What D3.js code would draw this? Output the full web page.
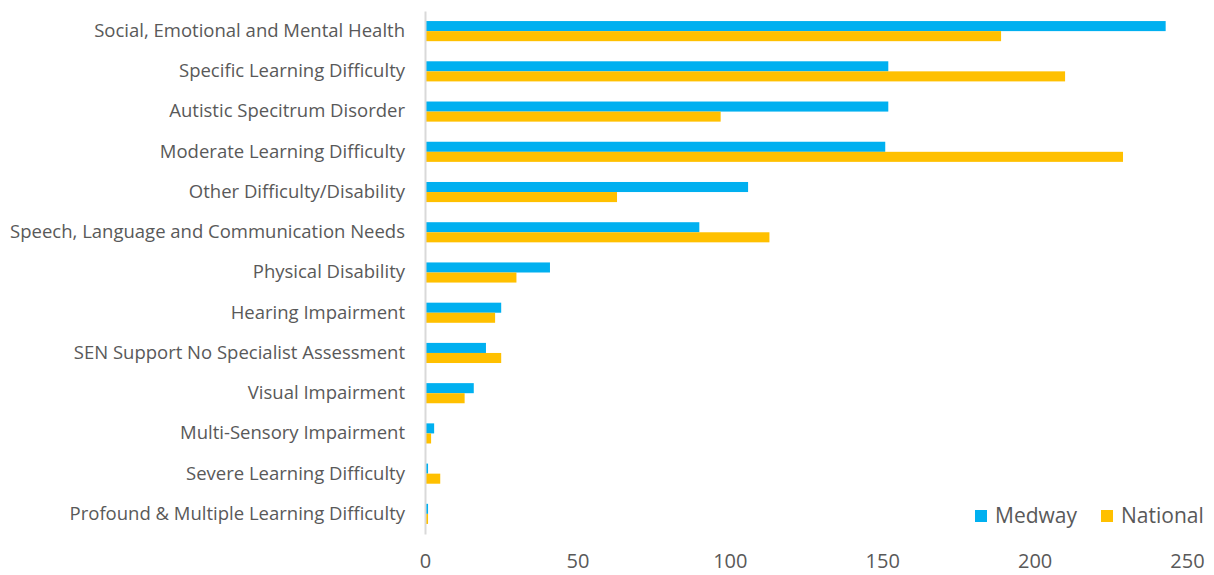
<!DOCTYPE html>
<html>
<head>
<meta charset="utf-8">
<script src="https://cdn.jsdelivr.net/npm/d3@7"></script>
<style>
  body { margin: 0; background: #fff; }
  text { font-family: "Open Sans", "Noto Sans", sans-serif; fill: #595959; }
</style>
</head>
<body>
<div id="chart"></div>
<script>
// --- DATOS ---
const categories = [
  "Social, Emotional and Mental Health",
  "Specific Learning Difficulty",
  "Autistic Specitrum Disorder",
  "Moderate Learning Difficulty",
  "Other Difficulty/Disability",
  "Speech, Language and Communication Needs",
  "Physical Disability",
  "Hearing Impairment",
  "SEN Support No Specialist Assessment",
  "Visual Impairment",
  "Multi-Sensory Impairment",
  "Severe Learning Difficulty",
  "Profound & Multiple Learning Difficulty"
];
const medway = [243, 152, 152, 151, 106, 90, 41, 25, 20, 16, 3, 1, 1];
const national = [189, 210, 97, 229, 63, 113, 30, 23, 25, 13, 2, 5, 1];
const seriesNames = ["Medway", "National"];
const xTicks = [0, 50, 100, 150, 200, 250];

// --- CONFIGURACIÓN ---
const W = 1214, H = 575;
const margin = { top: 11, right: 27, bottom: 41, left: 425 };
const width = W - margin.left - margin.right;
const height = H - margin.top - margin.bottom;
const colors = { Medway: "#00B0F0", National: "#FFC000" };

const rows = categories.map((c, i) => ({ cat: c, Medway: medway[i], National: national[i] }));

const svg = d3.select("#chart").append("svg")
  .attr("width", W).attr("height", H)
  .append("g")
  .attr("transform", `translate(${margin.left},${margin.top})`);

const x = d3.scaleLinear().domain([0, 250]).range([0, width]);
const y = d3.scaleBand().domain(categories).range([0, height]).paddingInner(0.5).paddingOuter(0.25);
const ySub = d3.scaleBand().domain(seriesNames).range([0, y.bandwidth()]);

// Barras
const groups = svg.selectAll(".grp").data(rows).join("g")
  .attr("transform", d => `translate(0,${y(d.cat)})`);
groups.selectAll("rect")
  .data(d => seriesNames.map(s => ({ s, v: d[s] })))
  .join("rect")
  .attr("x", x(0))
  .attr("y", d => ySub(d.s))
  .attr("width", d => x(d.v) - x(0))
  .attr("height", ySub.bandwidth())
  .attr("fill", d => colors[d.s]);

// Eje Y (solo línea y etiquetas)
const yAxis = svg.append("g").call(d3.axisLeft(y).tickSize(0).tickPadding(20));
yAxis.select(".domain").attr("stroke", "#d9d9d9").attr("stroke-width", 2);
yAxis.selectAll("text").style("font-size", "18.5px").attr("fill", "#595959");

// Eje X (sin línea)
const xAxis = svg.append("g").attr("transform", `translate(0,${height})`)
  .call(d3.axisBottom(x).tickValues(xTicks).tickSize(0).tickPadding(20));
xAxis.select(".domain").remove();
xAxis.selectAll("text").style("font-size", "20px").attr("fill", "#595959");

// Leyenda
const legend = svg.append("g").attr("transform", `translate(${975 - margin.left},${510 - margin.top})`);
const legendX = [0, 126];
seriesNames.forEach((s, i) => {
  const g = legend.append("g").attr("transform", `translate(${legendX[i]},0)`);
  g.append("rect").attr("width", 12).attr("height", 12).attr("fill", colors[s]);
  g.append("text").attr("x", 20).attr("y", 6).attr("dy", "0.35em")
    .style("font-size", "21px").text(s);
});
</script>
</body>
</html>
